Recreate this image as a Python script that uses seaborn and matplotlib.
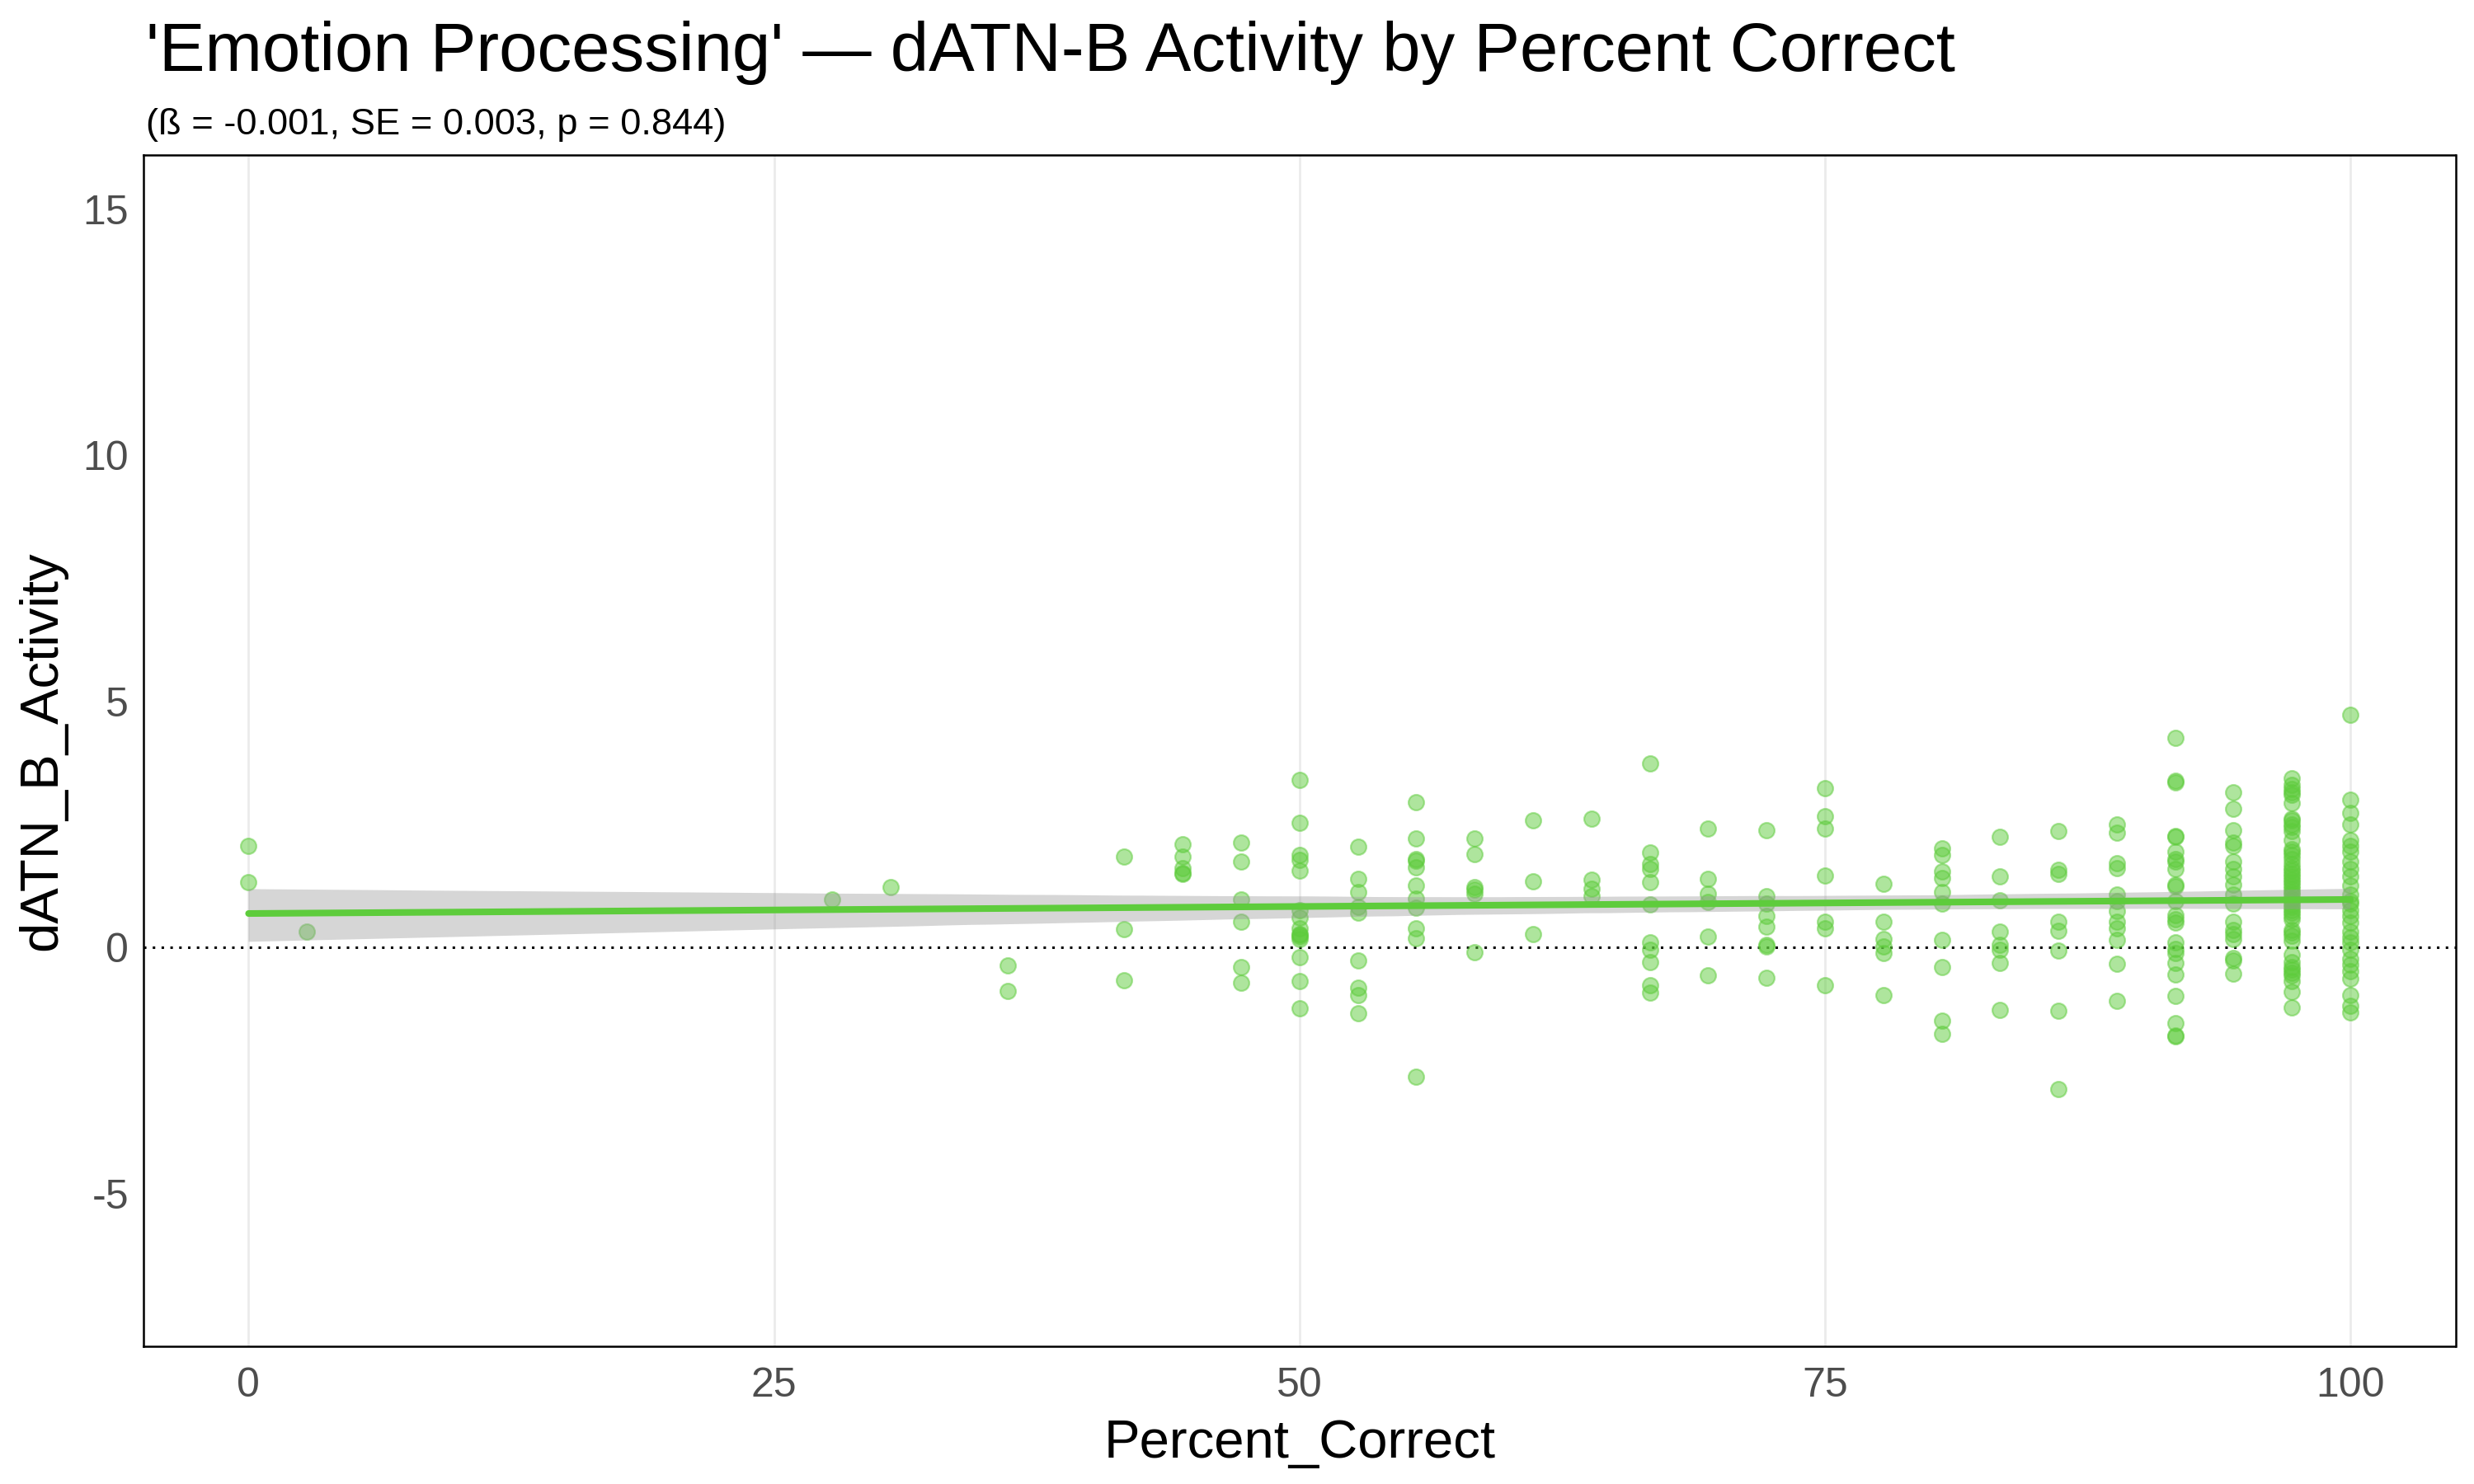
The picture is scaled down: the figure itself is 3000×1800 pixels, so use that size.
import numpy as np
import pandas as pd
import matplotlib
matplotlib.use("Agg")
import matplotlib.pyplot as plt
import seaborn as sns

title = "'Emotion Processing' \u2014 dATN-B Activity by Percent Correct"
subtitle = "(\u00df = -0.001, SE = 0.003, p = 0.844)"
x_name = "Percent_Correct"
y_name = "dATN_B_Activity"

pct_levels = [0, 2.78, 27.78, 30.56, 36.11, 41.67, 44.44, 47.22, 50, 52.78,
              55.56, 58.33, 61.11, 63.89, 66.67, 69.44, 72.22, 75, 77.78,
              80.56, 83.33, 86.11, 88.89, 91.67, 94.44, 97.22, 100]

activity_by_level = [
    [2.06, 1.32],
    [0.32],
    [0.98],
    [1.23],
    [-0.37, -0.89],
    [1.85, 0.38, -0.66],
    [2.09, 1.85, 1.62, 1.52, 1.50],
    [2.14, 1.74, 0.98, 0.53, -0.39, -0.71],
    [3.40, 2.53, 1.88, 1.78, 1.57, 0.76, 0.61, 0.39, 0.28, 0.25, 0.22, 0.17,
     -0.19, -0.68, -1.23],
    [2.04, 1.39, 1.12, 0.82, 0.70, -0.27, -0.81, -0.97, -1.34],
    [2.95, 2.22, 1.80, 1.77, 1.63, 1.26, 0.99, 0.81, 0.39, 0.19, -2.63],
    [2.22, 1.90, 1.23, 1.18, 1.10, -0.09],
    [2.58, 1.35, 0.28],
    [2.61, 1.38, 1.20, 1.05],
    [3.74, 1.93, 1.69, 1.60, 1.33, 0.87, 0.11, -0.04, -0.30, -0.77, -0.92],
    [2.42, 1.39, 1.09, 0.92, 0.22, -0.56],
    [2.39, 1.04, 0.89, 0.64, 0.43, 0.06, 0.02, -0.62],
    [3.24, 2.66, 2.42, 1.46, 0.53, 0.39, -0.76],
    [1.29, 0.53, 0.17, 0.02, -0.12, -0.97],
    [2.02, 1.88, 1.54, 1.41, 1.12, 0.89, 0.15, -0.40, -1.48, -1.75],
    [2.25, 1.44, 0.96, 0.32, 0.05, -0.04, -0.32, -1.26],
    [2.36, 1.58, 1.49, 0.53, 0.34, -0.06, -1.28, -2.87],
    [2.50, 2.34, 1.71, 1.62, 1.08, 0.95, 0.74, 0.53, 0.39, 0.15, -0.33, -1.08],
    [4.26, 3.38, 3.36, 2.27, 2.25, 1.95, 1.80, 1.75, 1.60, 1.27, 1.25, 0.95,
     0.66, 0.58, 0.50, 0.11, -0.03, -0.11, -0.32, -0.54, -0.99, -1.53, -1.81,
     -1.79],
    [3.16, 2.82, 2.39, 2.13, 2.06, 1.75, 1.60, 1.44, 1.28, 1.07, 0.90, 0.53,
     0.36, 0.28, 0.17, -0.22, -0.26, -0.53],
    [3.43, 3.30, 3.22, 3.15, 3.10, 2.93, 2.62, 2.58, 2.50, 2.45, 2.37, 2.19,
     2.00, 1.95, 1.88, 1.80, 1.69, 1.62, 1.57, 1.50, 1.44, 1.38, 1.32, 1.26,
     1.20, 1.13, 1.07, 1.00, 0.95, 0.88, 0.82, 0.76, 0.70, 0.64, 0.58, 0.36,
     0.30, 0.24, 0.14, -0.14, -0.29, -0.40, -0.45, -0.52, -0.57, -0.69,
     -0.90, -1.22],
    [4.73, 3.01, 2.74, 2.50, 2.19, 2.06, 1.94, 1.75, 1.60, 1.44, 1.26, 1.07,
     0.95, 0.89, 0.76, 0.64, 0.51, 0.33, 0.20, 0.11, -0.04, -0.23, -0.35,
     -0.48, -0.63, -0.97, -1.19, -1.31],
]

x_vals = []
y_vals = []
for lvl, ys in zip(pct_levels, activity_by_level):
    for v in ys:
        x_vals.append(lvl)
        y_vals.append(v)
df = pd.DataFrame({x_name: x_vals, y_name: y_vals})

green = "#5ecc3c"

sns.set_style("white")
plt.rcParams["font.family"] = ["Liberation Sans", "DejaVu Sans"]
plt.rcParams["axes.unicode_minus"] = False
plt.rcParams["text.color"] = "black"
plt.rcParams["axes.labelcolor"] = "black"

fig = plt.figure(figsize=(15, 9), dpi=200)
ax = fig.add_axes([0.058, 0.0928, 0.9345, 0.8028])

# points first, then the fit band and line on top (ggplot layer order)
sns.scatterplot(data=df, x=x_name, y=y_name, ax=ax, color=green, alpha=0.5,
                s=46, edgecolor=green, linewidth=0.8, zorder=2)
sns.regplot(data=df, x=x_name, y=y_name, ax=ax, scatter=False, color=green,
            ci=95, seed=1, line_kws={"lw": 2.9, "zorder": 4})
band = ax.collections[-1]
band.set_alpha(None)
band.set_facecolor((0.6, 0.6, 0.6, 0.4))
band.set_edgecolor("none")
band.set_zorder(3)

ax.axhline(0, color="black", ls=(0, (1, 2.5)), lw=1.1, zorder=1)

ax.set_xlim(-5, 105)
ax.set_ylim(-8.1, 16.1)
ax.set_xticks([0, 25, 50, 75, 100])
ax.set_yticks([-5, 0, 5, 10, 15])
ax.xaxis.grid(True, color="#ebebeb", lw=1.0)
ax.yaxis.grid(False)
ax.set_axisbelow(True)
ax.tick_params(axis="both", length=0, labelsize=18, labelcolor="#4d4d4d")
ax.tick_params(axis="x", pad=9)
ax.tick_params(axis="y", pad=6.5)
for sp in ax.spines.values():
    sp.set_color("black")
    sp.set_linewidth(0.9)

ax.set_xlabel(x_name, fontsize=23.5, labelpad=6)
ax.set_ylabel(y_name, fontsize=23.5, labelpad=7)

fig.text(0.059, 0.952, title, fontsize=30, va="baseline", ha="left")
fig.text(0.059, 0.9097, subtitle, fontsize=16.3, va="baseline", ha="left")

fig.savefig("out.png", dpi=200)
